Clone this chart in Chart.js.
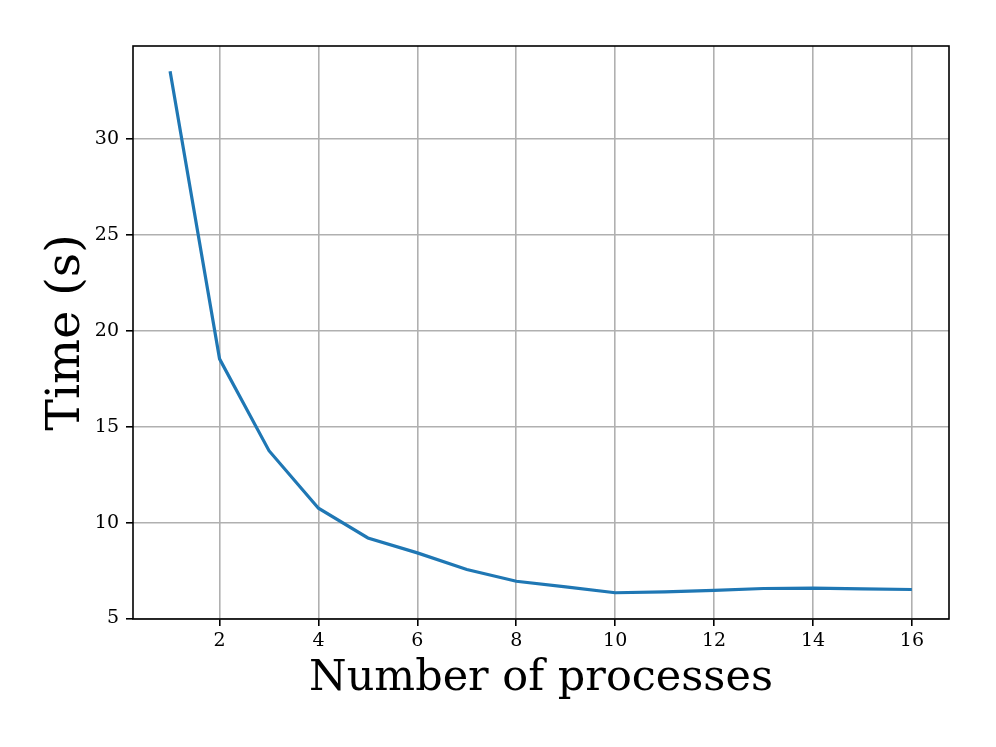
<!DOCTYPE html>
<html>
<head>
<meta charset="utf-8">
<script src="https://cdn.jsdelivr.net/npm/chart.js@4.4.0/dist/chart.umd.min.js"></script>
<style>
  body { margin: 0; background: #fff; }
</style>
</head>
<body>
<canvas id="mycanvas" width="996" height="747"></canvas>
<script>
// processes vs time
var procs = [1, 2, 3, 4, 5, 6, 7, 8, 9, 10, 11, 12, 13, 14, 15, 16];
var times = [33.54, 18.54, 13.75, 10.75, 9.2, 8.42, 7.55, 6.94, 6.65, 6.34, 6.38, 6.46, 6.56, 6.58, 6.54, 6.51];
var xTicks = [2, 4, 6, 8, 10, 12, 14, 16];
var yTicks = [5, 10, 15, 20, 25, 30];

var points = [];
for (var i in procs) {
  points.push({ x: procs[i], y: times[i] });
}

// draws the box round the plot area
var frame = {
  id: 'frame',
  afterDatasetsDraw: function(chart) {
    var a = chart.chartArea;
    var ctx = chart.ctx;
    ctx.save();
    ctx.strokeStyle = '#000';
    ctx.lineWidth = 1.6;
    ctx.strokeRect(a.left, a.top, a.right - a.left, a.bottom - a.top);
    ctx.restore();
  }
};

var tickFont = { family: 'DejaVu Serif', size: 19 };

var ctx = document.getElementById('mycanvas');
var LineGraph = new Chart(ctx, {
  type: 'line',
  data: {
    datasets: [
      {
        label: 'Time',
        data: points,
        borderColor: '#1f77b4',
        backgroundColor: '#1f77b4',
        borderWidth: 3.2,
        pointRadius: 0,
        tension: 0,
        fill: false
      }
    ]
  },
  options: {
    responsive: false,
    animation: false,
    layout: { padding: { top: 46, right: 47, left: 0, bottom: 0 } },
    plugins: {
      legend: { display: false },
      tooltip: { enabled: false }
    },
    scales: {
      x: {
        type: 'linear',
        min: 0.25,
        max: 16.75,
        afterBuildTicks: function(axis) {
          axis.ticks = xTicks.map(function(v) { return { value: v }; });
        },
        afterFit: function(axis) { axis.height = 128; },
        grid: { color: '#b0b0b0', lineWidth: 1.6, tickColor: '#000', tickWidth: 1.6, tickLength: 7 },
        border: { display: false },
        ticks: { color: '#000', font: tickFont, padding: 4, maxRotation: 0 },
        title: {
          display: true,
          text: 'Number of processes',
          color: '#000',
          font: { family: 'DejaVu Serif', size: 43 },
          padding: { top: 0, bottom: 42 }
        }
      },
      y: {
        type: 'linear',
        min: 4.97,
        max: 34.86,
        afterBuildTicks: function(axis) {
          axis.ticks = yTicks.map(function(v) { return { value: v }; });
        },
        afterFit: function(axis) { axis.width = 133; },
        grid: { color: '#b0b0b0', lineWidth: 1.6, tickColor: '#000', tickWidth: 1.6, tickLength: 7 },
        border: { display: false },
        ticks: { color: '#000', font: tickFont, padding: 7 },
        title: {
          display: true,
          text: 'Time (s)',
          color: '#000',
          font: { family: 'DejaVu Serif', size: 47.5 },
          padding: { top: 38, bottom: 0 }
        }
      }
    }
  },
  plugins: [frame]
});
</script>
</body>
</html>
